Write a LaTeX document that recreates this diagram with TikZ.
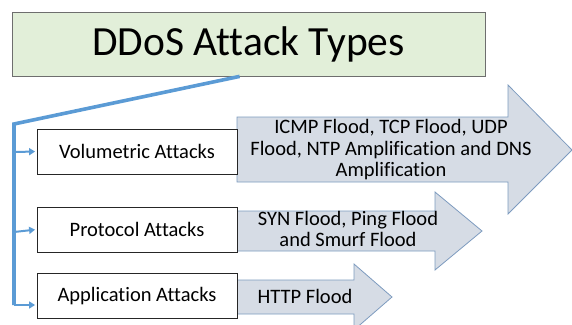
\documentclass[tikz,border=0pt]{standalone}
\usepackage{fontspec}
\setmainfont[Ligatures={NoCommon}]{Carlito}
\usetikzlibrary{arrows.meta,calc}
\definecolor{titlefill}{HTML}{E2EFD9}
\definecolor{titledraw}{HTML}{6E6E6E}
\definecolor{arrfill}{HTML}{D6DCE5}
\definecolor{arrdraw}{HTML}{7D9BBF}
\definecolor{connblue}{HTML}{5B9BD5}
\tikzset{
  titlebox/.style={draw=titledraw, line width=0.8pt, fill=titlefill, minimum width=473pt, minimum height=64pt, inner sep=0pt, font=\fontsize{41.5}{44}\selectfont},
  catbox/.style={draw=black!85, line width=0.8pt, fill=white, minimum width=200pt, minimum height=45pt, inner sep=0pt, font=\fontsize{20.5}{22}\selectfont},
  blockarrow/.style={draw=arrdraw, line width=0.8pt, fill=arrfill},
  arrtext/.style={align=center, inner sep=0pt, font=\fontsize{20.5}{21.5}\selectfont},
  conn/.style={draw=connblue, line width=3.6pt, line join=miter},
  branch/.style={draw=connblue, line width=2pt, -{Triangle[length=6pt,width=7pt]}, shorten >=1.5pt},
}
\begin{document}
\begin{tikzpicture}[x=1pt,y=-1pt]
\useasboundingbox (0,0) rectangle (572,324);
% block arrows
\draw[blockarrow] (237,117) -- (508,117) -- (508,85) -- (572,150) -- (508,214) -- (508,182) -- (237,182) -- cycle;
\draw[blockarrow] (237,211) -- (435,211) -- (435,192) -- (482,231) -- (435,270) -- (435,251) -- (237,251) -- cycle;
\draw[blockarrow] (237,280) -- (354,280) -- (354,264) -- (392,297) -- (354,330) -- (354,314) -- (237,314) -- cycle;
\node[arrtext] (t1) at (391,150) {ICMP Flood, TCP Flood, UDP\\Flood, NTP Amplification and DNS\\Amplification};
\node[arrtext] (t2) at (348,229) {SYN Flood, Ping Flood\\and Smurf Flood};
\node[arrtext] (t3) at (305,296) {HTTP Flood};
% title
\node[titlebox] (title) at (248.5,44) {DDoS Attack Types};
% category boxes
\node[catbox] (vol) at (137,151.5) {Volumetric Attacks};
\node[catbox] (pro) at (137,229.5) {Protocol Attacks};
\node[catbox] (app) at (137,296) {Application Attacks};
% connectors
\coordinate (start) at ([xshift=228pt]title.south west);
\coordinate (corner) at (14,124);
\coordinate (bottom) at (14,305);
\draw[conn] (start) -- (corner) -- (bottom);
\draw[branch] (14,152) -- (vol.west);
\draw[branch] (14,232) -- (pro.west);
\draw[branch] (bottom) -- (app.west |- bottom);
\end{tikzpicture}
\end{document}
